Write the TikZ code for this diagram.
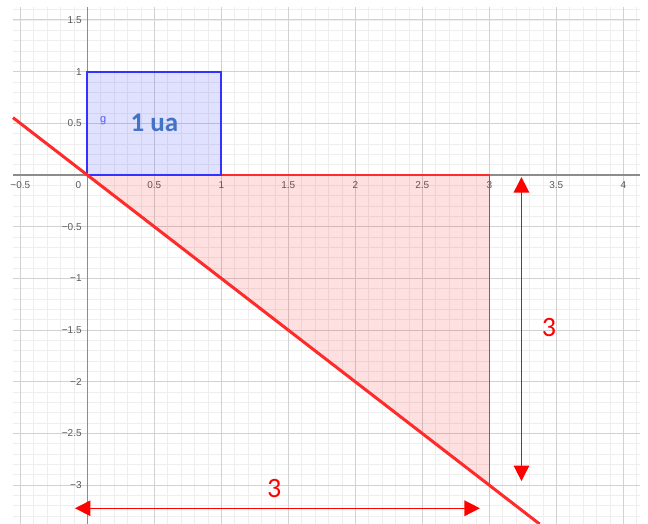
\documentclass[tikz,border=0pt]{standalone}
\usepackage{fontspec}
\setmainfont{Carlito}
\newfontfamily\axisfont{Liberation Sans}
\usetikzlibrary{arrows.meta}
\definecolor{minorgrid}{HTML}{EEEEEE}
\definecolor{majorgrid}{HTML}{D2D2D2}
\definecolor{axiscol}{HTML}{8C8C8C}
\definecolor{labgray}{HTML}{5A5A5A}
\definecolor{rectedge}{HTML}{3333FF}
\definecolor{uablue}{HTML}{4472C4}
\definecolor{gblue}{HTML}{5555FF}
\definecolor{linered}{HTML}{FF2A2A}
\definecolor{arrowred}{HTML}{FF0000}
\tikzset{
  minorline/.style={draw=minorgrid, line width=0.8bp},
  majorline/.style={draw=majorgrid, line width=1bp},
  axisline/.style={draw=axiscol, line width=1.3bp},
  xlab/.style={font=\axisfont\fontsize{10bp}{12bp}\selectfont, text=labgray, inner sep=0pt, anchor=center, yshift=-10.5bp},
  ylab/.style={font=\axisfont\fontsize{10bp}{12bp}\selectfont, text=labgray, inner sep=0pt, anchor=east, xshift=-5.5bp},
  bigred/.style={font=\fontsize{28bp}{30bp}\selectfont, text=arrowred, inner sep=0pt},
  dimarrow/.style={draw=arrowred, line width=1.5bp, {Triangle[length=15.5bp,width=15.5bp]}-{Triangle[length=15.5bp,width=15.5bp]}},
}
\begin{document}
\begin{tikzpicture}[x=134bp,y=103.4bp]
\useasboundingbox (-0.6515,-3.3752) rectangle (4.1843,1.6925);
\fill[white] (-0.6515,-3.3752) rectangle (4.1843,1.6925);
% minor grid
\foreach \i in {-5,...,41} \draw[minorline] (\i/10,-3.3752) -- (\i/10,1.6248);
\foreach \j in {-33,...,16} \draw[minorline] (-0.5545,\j/10) -- (4.1246,\j/10);
% major grid
\foreach \i in {-1,...,8} \draw[majorline] (\i/2,-3.3752) -- (\i/2,1.6248);
\foreach \j in {-6,...,3} \draw[majorline] (-0.5545,\j/2) -- (4.1246,\j/2);
% axes
\draw[axisline] (-0.5545,0) -- (4.1246,0);
\draw[axisline] (0,-3.3752) -- (0,1.6248);
% axis labels
\foreach \v/\t [count=\k] in {-0.5/−0.5,0.5/0.5,1/1,1.5/1.5,2/2,2.5/2.5,3/3,3.5/3.5,4/4}
  \node[xlab] (xl\k) at (\v,0) {\t};
\node[xlab, xshift=-9bp] (xl0) at (0,0) {0};
\foreach \v/\t [count=\k] in {1.5/1.5,1/1,0.5/0.5,-0.5/−0.5,-1/−1,-1.5/−1.5,-2/−2,-2.5/−2.5,-3/−3}
  \node[ylab] (yl\k) at (0,\v) {\t};
% red triangle
\coordinate (O) at (0,0);
\coordinate (P) at (3,0);
\coordinate (Q) at (3,-3);
\fill[red, fill opacity=0.12] (O) -- (P) -- (Q) -- cycle;
\draw[draw=linered, line width=1.6bp] (O) -- (P) -- (Q);
% blue square
\coordinate (S) at (1,1);
\fill[rectedge, fill opacity=0.15] (O) rectangle (S);
\draw[draw=rectedge, line width=1.8bp] (O) rectangle (S);
\node[font=\axisfont\fontsize{11bp}{12bp}\selectfont, text=gblue, inner sep=0pt, anchor=base] (glab) at (0.119,0.509) {g};
\node[font=\bfseries\fontsize{27bp}{29bp}\selectfont, text=uablue, inner sep=0pt] (ua) at (0.5,0.5) {1 ua};
% line y = -x
\coordinate (lA) at (-0.5545,0.5545);
\coordinate (lB) at (3.3752,-3.3752);
\draw[draw=linered, line width=3bp] (lA) -- (lB);
% dimension arrows
\coordinate (vtop) at (3.24,-0.02);
\coordinate (vbot) at (3.24,-2.96);
\draw[dimarrow] (vtop) -- (vbot);
\coordinate (hleft) at (-0.092,-3.223);
\coordinate (hright) at (2.93,-3.223);
\draw[dimarrow] (hleft) -- (hright);
\node[bigred] (vlab) at (3.445,-1.477) {3};
\node[bigred] (hlab) at (1.395,-3.032) {3};
\end{tikzpicture}
\end{document}
